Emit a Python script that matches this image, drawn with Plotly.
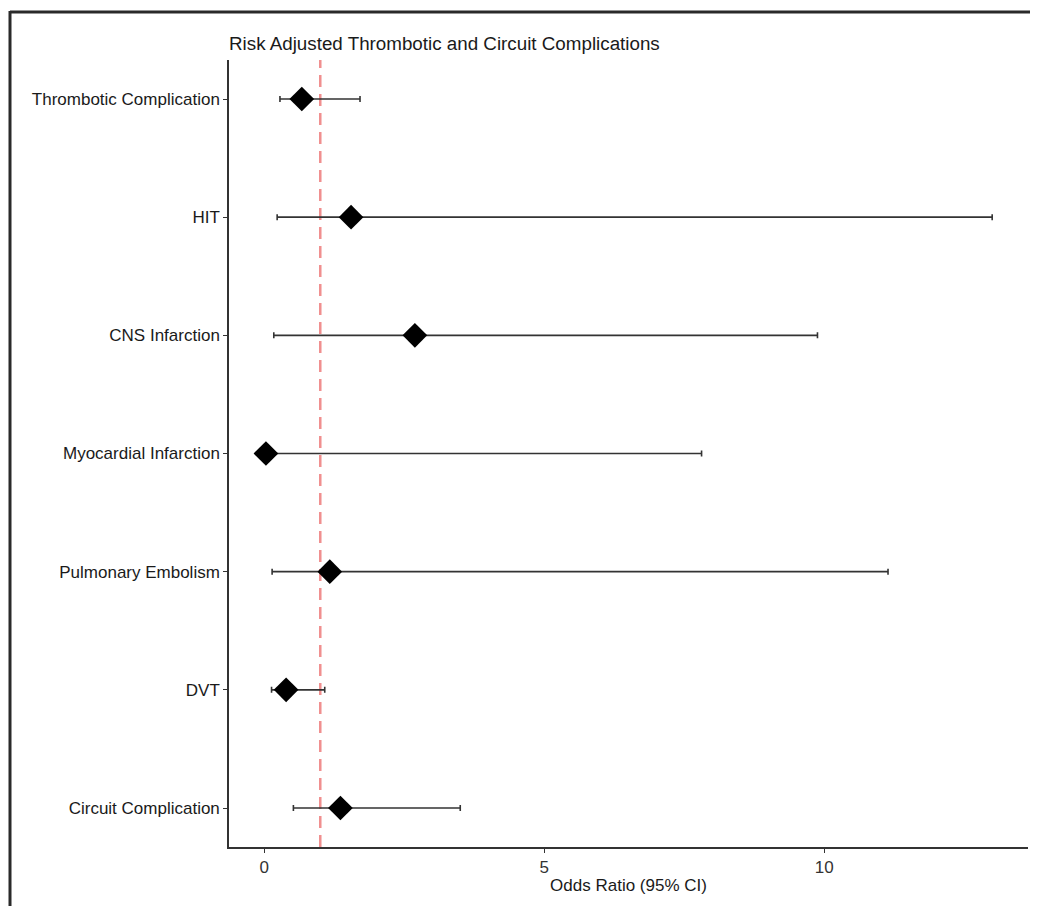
import plotly.graph_objects as go

categories = ["Thrombotic Complication", "HIT", "CNS Infarction", "Myocardial Infarction",
              "Pulmonary Embolism", "DVT", "Circuit Complication"]
odds_ratio = [0.67, 1.55, 2.69, 0.03, 1.17, 0.39, 1.36]
ci_low = [0.28, 0.23, 0.17, 0.02, 0.14, 0.13, 0.52]
ci_high = [1.71, 13.0, 9.88, 7.81, 11.14, 1.08, 3.50]
x_ticks = [0, 5, 10]

# plot categories from top to bottom
ypos = list(range(len(categories)))[::-1]
err_plus = [h - o for h, o in zip(ci_high, odds_ratio)]
err_minus = [o - l for o, l in zip(odds_ratio, ci_low)]

fig = go.Figure()
fig.add_trace(go.Scatter(
    x=odds_ratio, y=ypos, mode="markers",
    marker=dict(symbol="diamond", size=19, color="black"),
    error_x=dict(type="data", array=err_plus, arrayminus=err_minus,
                 color="#333333", thickness=1.6, width=3),
    showlegend=False,
))

fig.add_shape(type="line", x0=1, x1=1, y0=0, y1=1, xref="x", yref="paper",
              line=dict(color="#F08F8F", width=2.5, dash="12px,7px"), layer="below")

# page offset of 8px (body margin)
OFF = 8
W, H = 1038 - OFF, 906 - OFF
L, R, T, B = 229 - OFF, 10, 60 - OFF, 59
pw, ph = W - L - R, H - T - B
def px(xp): return (xp - OFF - L) / pw
def py(yp): return (H - B - (yp - OFF)) / ph

# outer frame (top and left)
fig.add_shape(type="line", xref="paper", yref="paper", x0=px(10), x1=px(1045),
              y0=py(12), y1=py(12), line=dict(color="#2a2a2a", width=3))
fig.add_shape(type="line", xref="paper", yref="paper", x0=px(10), x1=px(10),
              y0=py(11), y1=py(915), line=dict(color="#2a2a2a", width=3))

fig.update_layout(
    width=W, height=H,
    margin=dict(l=L, r=R, t=T, b=B),
    paper_bgcolor="white", plot_bgcolor="white",
    font=dict(family="Liberation Sans, Arial, sans-serif", color="#1a1a1a", size=17),
    title=dict(text="Risk Adjusted Thrombotic and Circuit Complications",
               xref="paper", x=0, xanchor="left",
               yref="container", y=1 - (43 - OFF) / H, yanchor="middle",
               font=dict(size=18.8, color="#1a1a1a")),
    xaxis=dict(range=[-0.63, 13.64], tickvals=x_ticks, ticktext=[str(t) for t in x_ticks],
               showgrid=False, zeroline=False, showline=True, linecolor="#333333",
               linewidth=1.5, ticks="outside", ticklen=4, tickcolor="#333333",
               tickfont=dict(size=17, color="#333333"),
               title=dict(text="Odds Ratio (95% CI)", font=dict(size=17, color="#1a1a1a"),
                          standoff=3)),
    yaxis=dict(range=[-0.33, 6.33], tickvals=ypos, ticktext=categories,
               showgrid=False, zeroline=False, showline=True, linecolor="#333333",
               linewidth=1.5, ticks="outside", ticklen=4, tickcolor="#333333",
               tickfont=dict(size=17, color="#1a1a1a")),
)

fig.write_html("out.html")
